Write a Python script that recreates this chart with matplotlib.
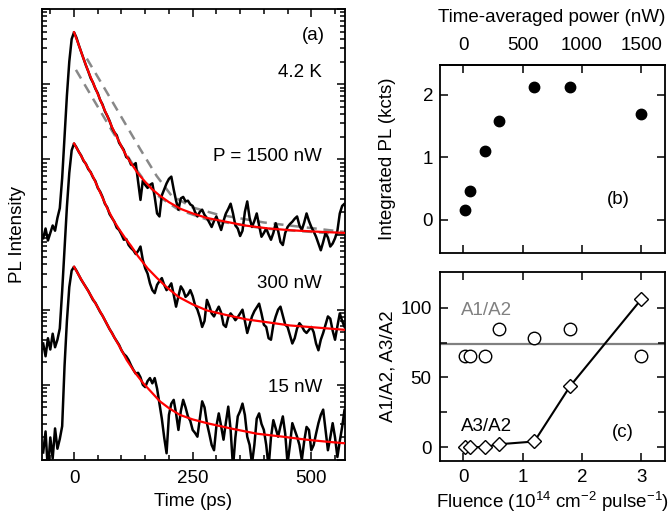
import matplotlib
matplotlib.use('Agg')
import matplotlib.pyplot as plt
import numpy as np
from matplotlib.ticker import MultipleLocator, LogLocator, NullFormatter, FixedLocator

plt.rcParams['font.family'] = ['Liberation Sans', 'DejaVu Sans']
plt.rcParams['font.size'] = 13.5
plt.rcParams['mathtext.fontset'] = 'custom'
plt.rcParams['mathtext.rm'] = 'Liberation Sans'
plt.rcParams['mathtext.default'] = 'regular'
plt.rcParams['axes.linewidth'] = 1.3

# ---- panel (a): PL transients, log10 intensity ----
t_trace = np.arange(-65, 576, 5)  # ps

log_1500 = [2.95, 3.08, 2.92, 3.02, 3.12, 3.05, 3.22, 3.35, 3.75, 4.30,
            4.85, 5.30, 5.60, 5.69, 5.62, 5.52, 5.43, 5.34, 5.25, 5.17,
            5.08, 5.02, 4.94, 4.88, 4.79, 4.73, 4.64, 4.58, 4.51, 4.42,
            4.36, 4.32, 4.22, 4.17, 4.12, 4.03, 4.01, 3.93, 3.92, 3.95,
            3.70, 3.46, 3.72, 3.66, 3.62, 3.66, 3.68, 3.50, 3.28, 3.24,
            3.52, 3.60, 3.68, 3.74, 3.77, 3.60, 3.45, 3.33, 3.48, 3.50,
            3.44, 3.45, 3.40, 3.38, 3.30, 3.24, 3.30, 3.33, 3.26, 3.22,
            3.16, 3.10, 3.18, 3.24, 3.15, 3.06, 3.18, 3.28, 3.34, 3.41,
            3.28, 3.12, 3.08, 2.98, 3.05, 3.30, 3.44, 3.22, 3.10, 3.18,
            3.28, 3.12, 2.97, 3.02, 3.08, 3.00, 2.93, 3.02, 3.15, 3.05,
            2.90, 2.86, 3.02, 3.10, 3.14, 3.17, 3.21, 3.24, 3.12, 3.06,
            3.16, 3.28, 3.18, 3.10, 3.04, 2.97, 2.88, 2.79, 2.90, 3.02,
            2.96, 2.84, 2.88, 2.95, 3.05, 3.28, 3.38, 3.41, 3.30]

log_300 = [1.55, 1.38, 1.62, 1.47, 1.68, 1.50, 1.60, 1.75, 2.25, 2.82,
           3.37, 3.82, 4.12, 4.21, 4.16, 4.10, 4.05, 3.98, 3.94, 3.87,
           3.83, 3.76, 3.71, 3.62, 3.57, 3.50, 3.41, 3.36, 3.27, 3.22,
           3.17, 3.09, 3.06, 3.00, 2.93, 2.94, 2.86, 2.82, 2.79, 2.74,
           2.78, 2.84, 2.66, 2.55, 2.48, 2.35, 2.26, 2.22, 2.33, 2.38,
           2.42, 2.33, 2.26, 2.30, 2.35, 2.20, 2.04, 2.18, 2.31, 2.26,
           2.17, 2.20, 2.26, 2.18, 2.06, 2.00, 1.90, 1.77, 1.85, 2.13,
           2.05, 1.95, 1.91, 1.98, 2.04, 1.96, 1.80, 1.77, 1.90, 1.95,
           1.91, 1.86, 1.90, 1.95, 2.00, 1.85, 1.69, 1.80, 1.91, 1.98,
           2.03, 2.08, 1.95, 1.80, 1.77, 1.62, 1.60, 1.80, 1.91, 2.00,
           2.04, 1.92, 1.80, 1.77, 1.66, 1.55, 1.62, 1.75, 1.82, 1.78,
           1.72, 1.69, 1.73, 1.77, 1.70, 1.55, 1.46, 1.60, 1.69, 1.80,
           1.91, 1.88, 1.72, 1.60, 1.78, 1.95, 1.85, 1.77, 1.85]

log_15 = [0.10, 0.38, -0.15, 0.30, 0.02, 0.42, 0.15, 0.28, 0.45, 1.25,
          1.85, 2.30, 2.52, 2.57, 2.52, 2.46, 2.40, 2.35, 2.30, 2.25,
          2.19, 2.13, 2.09, 2.03, 1.97, 1.92, 1.86, 1.80, 1.74, 1.69,
          1.63, 1.58, 1.53, 1.46, 1.41, 1.38, 1.33, 1.26, 1.20, 1.15,
          1.16, 1.10, 1.00, 0.97, 1.05, 1.09, 1.02, 1.09, 0.95, 0.75,
          0.55, 0.30, 0.09, 0.60, 0.75, 0.80, 0.62, 0.40, 0.65, 0.80,
          0.70, 0.58, 0.52, 0.40, 0.36, 0.31, 0.55, 0.78, 0.70, 0.49,
          0.35, 0.20, 0.13, 0.45, 0.62, 0.45, 0.27, 0.50, 0.71, 0.40,
          -0.10, 0.30, 0.58, 0.65, 0.75, 0.60, 0.31, 0.20, -0.05, 0.20,
          0.55, 0.62, 0.48, 0.40, 0.20, -0.10, 0.30, 0.53, 0.42, 0.31,
          0.45, 0.58, 0.35, -0.05, 0.20, 0.49, 0.40, 0.31, 0.20, 0.00,
          0.25, 0.44, 0.40, 0.13, 0.20, 0.35, 0.49, 0.60, 0.67, 0.40,
          0.13, 0.30, 0.49, 0.30, 0.04, 0.25, 0.44, 0.67, 0.50]

# fit curves (red), log10 values
t_fit_1500 = [0, 10, 20, 30, 40, 50, 60, 70, 80, 90, 100, 110, 120, 135, 150,
              165, 180, 200, 225, 250, 280, 320, 360, 410, 460, 520, 575]
fit_1500 = [5.69, 5.52, 5.34, 5.17, 5.02, 4.87, 4.72, 4.58, 4.43, 4.30, 4.17,
            4.05, 3.95, 3.81, 3.70, 3.60, 3.52, 3.43, 3.34, 3.28, 3.22, 3.17,
            3.12, 3.08, 3.055, 3.035, 3.02]
t_fit_300 = [0, 10, 20, 30, 40, 50, 60, 70, 83, 95, 108, 120, 135, 155, 175,
             195, 220, 250, 280, 320, 364, 410, 455, 515, 575]
fit_300 = [4.21, 4.10, 3.99, 3.88, 3.77, 3.63, 3.49, 3.35, 3.19, 3.07, 2.95,
           2.85, 2.71, 2.55, 2.42, 2.30, 2.17, 2.07, 1.99, 1.93, 1.87, 1.83,
           1.79, 1.76, 1.73]
t_fit_15 = [0, 20, 41, 60, 76, 95, 111, 130, 146, 165, 181, 200, 223, 250,
            280, 330, 385, 440, 490, 530, 575]
fit_15 = [2.57, 2.35, 2.13, 1.92, 1.73, 1.52, 1.33, 1.15, 1.02, 0.89, 0.78,
          0.69, 0.60, 0.54, 0.49, 0.42, 0.35, 0.31, 0.27, 0.245, 0.22]

# gray dashed single-exponential guides on the 1500 nW trace
t_dash_up = [27, 60, 100, 140, 174, 205, 250, 300, 400, 575]
dash_up = [5.34, 4.99, 4.56, 4.13, 3.78, 3.52, 3.36, 3.27, 3.16, 3.03]
t_dash_lo = [4, 34, 80, 122, 150, 180, 220, 280, 400, 575]
dash_lo = [5.19, 4.87, 4.38, 3.95, 3.70, 3.50, 3.33, 3.20, 3.08, 3.00]

# ---- panel (b): integrated PL vs fluence ----
fluence = [0.03, 0.12, 0.36, 0.6, 1.2, 1.8, 3.0]  # 1e14 cm^-2 pulse^-1
int_pl = [0.16, 0.46, 1.10, 1.59, 2.13, 2.13, 1.70]  # kcts

# ---- panel (c): amplitude ratios ----
a1_a2 = [65, 65, 65, 85, 78, 85, 65]
a3_a2 = [0, 0, 0, 2, 4, 43.6, 106]
a1_a2_mean = 74.2

fig = plt.figure(figsize=(6.7, 5.14), dpi=100)
W, H = 670, 514

def px_axes(l, t, r, b):
    return fig.add_axes([l / W, 1 - b / H, (r - l) / W, (b - t) / H])

# panel (a)
ax = px_axes(42, 9, 345, 460)
ax.plot(t_dash_up, 10 ** np.array(dash_up), color='#888888', lw=1.8,
        dashes=(4, 2.7), zorder=1)
ax.plot(t_dash_lo, 10 ** np.array(dash_lo), color='#888888', lw=1.8,
        dashes=(4, 2.7), zorder=1)
for vals in [log_1500, log_300, log_15]:
    ax.plot(t_trace, 10 ** np.array(vals), color='black', lw=1.8, zorder=2)
for tf, vf in [(t_fit_1500, fit_1500), (t_fit_300, fit_300), (t_fit_15, fit_15)]:
    ax.plot(tf, 10 ** np.array(vf), color='red', lw=1.6, zorder=3)
ax.set_yscale('log')
ax.set_ylim(1, 1e6)
ax.set_xlim(-67.5, 571)
ax.set_xticks([0, 250, 500])
ax.xaxis.set_minor_locator(MultipleLocator(50))
ax.yaxis.set_major_locator(LogLocator(base=10, numticks=10))
ax.yaxis.set_minor_locator(LogLocator(base=10, subs=np.arange(2, 10), numticks=20))
ax.yaxis.set_major_formatter(NullFormatter())
ax.yaxis.set_minor_formatter(NullFormatter())
ax.tick_params(which='both', direction='in', top=True, right=True, width=1.1)
ax.tick_params(which='major', length=6, pad=7)
ax.tick_params(which='minor', length=3.5)

ax.text(0.934, 0.942, '(a)', transform=ax.transAxes, ha='right', va='center')
ax.text(0.924, 0.860, '4.2 K', transform=ax.transAxes, ha='right', va='center')
ax.text(0.924, 0.672, 'P = 1500 nW', transform=ax.transAxes, ha='right', va='center')
ax.text(0.924, 0.392, '300 nW', transform=ax.transAxes, ha='right', va='center')
ax.text(0.924, 0.160, '15 nW', transform=ax.transAxes, ha='right', va='center')

fig.text(18 / W, 1 - 235 / H, 'PL Intensity', rotation=90, ha='center', va='center')
fig.text(193 / W, 1 - 501 / H, 'Time (ps)', ha='center', va='center')

# panel (b)
axb = px_axes(440, 65, 665, 253)
axb.plot(fluence, int_pl, 'o', color='black', ms=7.5)
axb.set_xlim(-0.39, 3.40)
axb.set_ylim(-0.53, 2.48)
axb.set_xticks([0, 1, 2, 3])
axb.set_yticks([0, 1, 2])
axb.tick_params(direction='in', length=6, width=1.1, right=True, top=False,
                labelbottom=False, pad=5)
sec = axb.secondary_xaxis('top', functions=(lambda f: f * 500, lambda p: p / 500))
sec.set_xticks([0, 500, 1000, 1500])
sec.tick_params(direction='in', length=6, width=1.1, pad=8)
axb.text(0.791, 0.282, '(b)', transform=axb.transAxes, ha='center', va='center')
fig.text(388 / W, 1 - 159 / H, 'Integrated PL (kcts)', rotation=90, ha='center', va='center')
fig.text(552 / W, 1 - 18 / H, 'Time-averaged power (nW)', ha='center', va='center')

# panel (c)
axc = px_axes(440, 272, 665, 461)
axc.axhline(a1_a2_mean, color='#808080', lw=1.6, zorder=1)
axc.plot(fluence, a1_a2, 'o', mfc='white', mec='black', mew=1.0, ms=9, zorder=3)
axc.plot(fluence, a3_a2, 'D-', color='black', mfc='white', mec='black',
         mew=1.0, ms=7, lw=1.5, zorder=2)
axc.set_xlim(-0.39, 3.40)
axc.set_ylim(-10, 125.6)
axc.set_xticks([0, 1, 2, 3])
axc.set_yticks([0, 50, 100])
axc.yaxis.set_minor_locator(FixedLocator([25, 75]))
axc.tick_params(which='both', direction='in', top=True, right=True, width=1.1)
axc.tick_params(which='major', length=6, pad=6)
axc.tick_params(which='minor', length=5)
axc.text(0.092, 0.797, 'A1/A2', transform=axc.transAxes, ha='left', va='center',
         color='#808080')
axc.text(0.092, 0.185, 'A3/A2', transform=axc.transAxes, ha='left', va='center')
axc.text(0.811, 0.153, '(c)', transform=axc.transAxes, ha='center', va='center')
fig.text(388 / W, 1 - 366 / H, 'A1/A2, A3/A2', rotation=90, ha='center', va='center')
fig.text(552 / W, 1 - 502 / H, 'Fluence (10$^{14}$ cm$^{-2}$ pulse$^{-1}$)',
         ha='center', va='center')

fig.savefig('out.png', dpi=100)
